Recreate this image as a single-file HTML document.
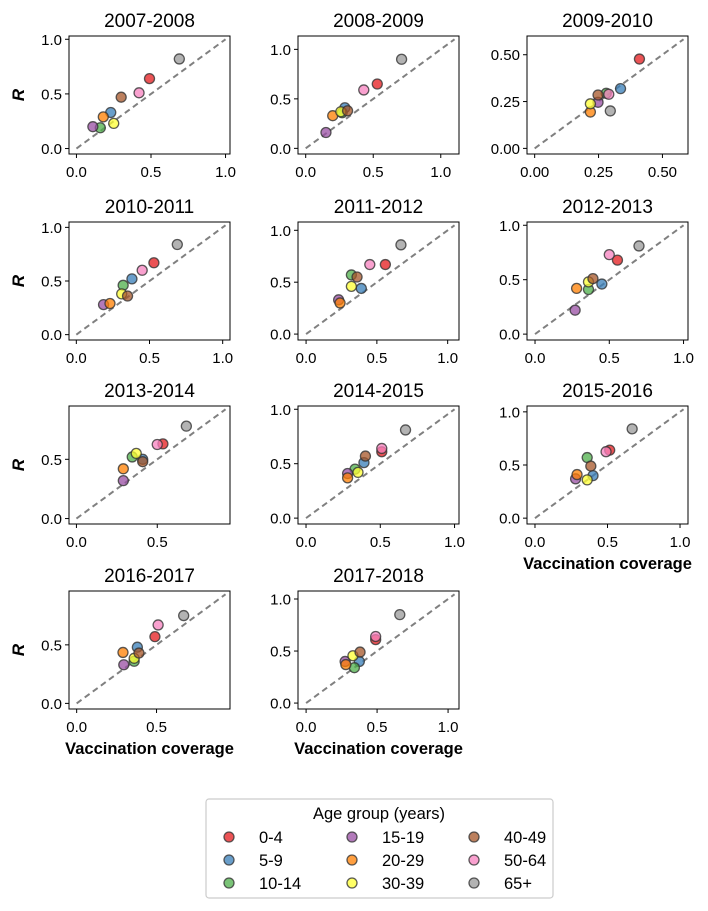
<!DOCTYPE html>
<html><head><meta charset="utf-8">
<style>
html,body{margin:0;padding:0;background:#fff;}
svg{display:block;font-family:"Liberation Sans",Arial,sans-serif;}
</style></head>
<body>
<svg id="chart" width="708" height="911" viewBox="0 0 708 911" xmlns="http://www.w3.org/2000/svg"></svg>
<script>
// ---- data ----
const seasons = ["2007-2008","2008-2009","2009-2010","2010-2011","2011-2012","2012-2013","2013-2014","2014-2015","2015-2016","2016-2017","2017-2018"];
const ageGroups = ["0-4","5-9","10-14","15-19","20-29","30-39","40-49","50-64","65+"];
const groupColors = ["#e41a1c","#377eb8","#4daf4a","#984ea3","#ff7f00","#ffff33","#a65628","#f781bf","#999999"];
// coverage (x) per season, in age-group order
const coverage = [
 [0.49,0.23,0.16,0.11,0.18,0.25,0.30,0.42,0.69],
 [0.53,0.29,0.27,0.15,0.20,0.26,0.31,0.43,0.71],
 [0.41,0.336,0.28,0.248,0.218,0.218,0.248,0.29,0.296],
 [0.53,0.38,0.32,0.186,0.23,0.31,0.35,0.45,0.69],
 [0.56,0.39,0.32,0.23,0.24,0.32,0.36,0.45,0.67],
 [0.555,0.45,0.36,0.27,0.28,0.36,0.39,0.50,0.70],
 [0.535,0.41,0.345,0.29,0.29,0.37,0.41,0.50,0.68],
 [0.51,0.39,0.33,0.28,0.28,0.35,0.40,0.51,0.67],
 [0.515,0.40,0.36,0.28,0.29,0.36,0.385,0.49,0.67],
 [0.49,0.38,0.36,0.295,0.29,0.36,0.39,0.51,0.67],
 [0.49,0.375,0.34,0.275,0.28,0.33,0.38,0.49,0.66]
];
// reproduction number R (y) per season
const rValues = [
 [0.64,0.33,0.19,0.20,0.29,0.23,0.47,0.51,0.82],
 [0.65,0.41,0.36,0.16,0.33,0.37,0.38,0.59,0.90],
 [0.477,0.319,0.294,0.246,0.194,0.238,0.285,0.289,0.20],
 [0.67,0.52,0.46,0.28,0.29,0.38,0.36,0.60,0.84],
 [0.67,0.44,0.57,0.33,0.30,0.46,0.55,0.67,0.86],
 [0.68,0.46,0.41,0.22,0.42,0.48,0.51,0.73,0.81],
 [0.63,0.50,0.52,0.32,0.42,0.55,0.48,0.625,0.78],
 [0.61,0.51,0.45,0.41,0.37,0.42,0.57,0.64,0.81],
 [0.64,0.40,0.57,0.37,0.41,0.36,0.49,0.625,0.84],
 [0.57,0.48,0.36,0.33,0.435,0.385,0.43,0.67,0.75],
 [0.61,0.40,0.34,0.40,0.37,0.455,0.49,0.64,0.85]
];
const axisLimits = [[-0.05,1.03],[-0.057,1.135],[-0.03,0.6],[-0.05,1.05],[-0.057,1.08],[-0.054,1.03],[-0.046,0.95],[-0.054,1.03],[-0.055,1.055],[-0.048,0.96],[-0.057,1.077]];
const tickSets = [[0,0.5,1],[0,0.5,1],[0,0.25,0.5],[0,0.5,1],[0,0.5,1],[0,0.5,1],[0,0.5],[0,0.5,1],[0,0.5,1],[0,0.5],[0,0.5,1]];

// ---- layout ----
const NS="http://www.w3.org/2000/svg";
const svg=document.getElementById('chart');
const colLeft=[69,298,527], rowTop=[36,222,406,591], W=161, H=118;
function mk(tag,attrs,parent){const e=document.createElementNS(NS,tag);for(const k in attrs)e.setAttribute(k,attrs[k]);(parent||svg).appendChild(e);return e;}

seasons.forEach((season,i)=>{
  const col=i%3,row=Math.floor(i/3);
  const L=colLeft[col],T=rowTop[row];
  const lim=axisLimits[i];
  const sx=v=>L+(v-lim[0])/(lim[1]-lim[0])*W;
  const sy=v=>T+H-(v-lim[0])/(lim[1]-lim[0])*H;
  const g=mk('g',{});
  
  
  const title=mk('text',{x:L+W/2,y:T-9,'text-anchor':'middle','font-size':19,fill:'#000'},g);
  title.textContent=season;
  
  
  const m=lim[1]/1.03;
  const diag=mk('line',{x1:sx(0),y1:sy(0),x2:sx(m),y2:sy(m),stroke:'#808080','stroke-width':2,'stroke-dasharray':'6,4'},g);
  
  
  const ticks=tickSets[i];
  const dec=ticks.includes(0.25)?2:1;
  ticks.forEach(t=>{
    const xt=mk('line',{x1:sx(t),x2:sx(t),y1:T+H,y2:T+H+4,stroke:'#000','stroke-width':1},g);
    
    
    const xl=mk('text',{x:sx(t),y:T+H+23,'text-anchor':'middle','font-size':15},g);
    xl.textContent=t.toFixed(dec);
    
    
    const yt=mk('line',{x1:L-4,x2:L,y1:sy(t),y2:sy(t),stroke:'#000','stroke-width':1},g);
    
    
    const yl=mk('text',{x:L-7,y:sy(t)+5.5,'text-anchor':'end','font-size':15},g);
    yl.textContent=t.toFixed(dec);
    
    
  });
  coverage[i].forEach((cv,k)=>{
    const c=mk('circle',{cx:sx(cv),cy:sy(rValues[i][k]),r:5,fill:groupColors[k],'fill-opacity':0.75,stroke:'#333','stroke-opacity':0.8,'stroke-width':1.3},g);
    
    
  });
  const frame=mk('rect',{x:L,y:T,width:W,height:H,fill:'none',stroke:'#000','stroke-width':1},g);
  
  
  if(col===0){
    const yl=mk('text',{x:0,y:0,transform:`translate(24,${T+H/2}) rotate(-90)`,'text-anchor':'middle','font-size':17,'font-weight':'bold','font-style':'italic'},g);
    yl.textContent='R';
    
    
  }
  if(row===3||i===8){
    const xl=mk('text',{x:L+W/2,y:T+H+45,'text-anchor':'middle','font-size':16.5,'font-weight':'bold'},g);
    xl.textContent='Vaccination coverage';
    
    
  }
});

// legend
const lg=mk('g',{});


mk('rect',{x:206,y:799,width:347,height:99,rx:3,fill:'#fff',stroke:'#ccc','stroke-width':1.2},lg);
const lt=mk('text',{x:379,y:819,'text-anchor':'middle','font-size':16.5},lg);
lt.textContent='Age group (years)';


const legX=[229,352,474], legY=[837,860,883];
ageGroups.forEach((a,k)=>{
  const c=Math.floor(k/3), r=k%3;
  const e=mk('g',{},lg);
  
  
  mk('circle',{cx:legX[c],cy:legY[r],r:5,fill:groupColors[k],'fill-opacity':0.75,stroke:'#333','stroke-opacity':0.8,'stroke-width':1.3},e);
  const t=mk('text',{x:legX[c]+30,y:legY[r]+6,'font-size':16.5},e);
  t.textContent=a;
});
</script>
</body></html>
